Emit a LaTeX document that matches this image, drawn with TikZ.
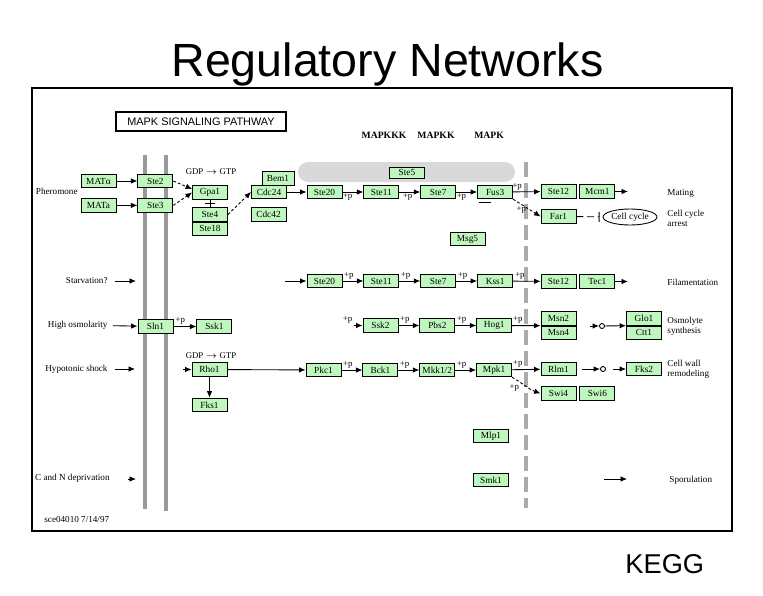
\documentclass[tikz,border=0pt]{standalone}
\usepackage{fontspec}
\setmainfont{Liberation Serif}
\newfontfamily\slidefont{Liberation Sans}
\usepackage{xcolor}
\definecolor{keggGreen}{HTML}{BFF7BF}
\definecolor{membraneGrey}{HTML}{999999}
\definecolor{nucleusGrey}{HTML}{ABABAB}
\definecolor{scaffoldGrey}{HTML}{D9D9D9}
\usepackage{tikz}
\usetikzlibrary{arrows.meta}
\tikzset{arrow/.style = {> = {Latex[length = 1.3mm, width = 1.1mm]}}}
\tikzset{inhibit/.style = {-{Bar[width = 2mm]}}}
\usetikzlibrary{positioning}
\usetikzlibrary{shapes.geometric}

\begin{document}
\begin{tikzpicture}[x = 0.02cm, y = -0.02cm, line width = 0.5pt,
	block/.style = {rectangle, draw, fill = keggGreen, minimum width = 0.7cm, minimum height = 0.27cm, inner sep = 0pt, font = \fontsize{5.3}{6}\selectfont},
	cue/.style = {font = \fontsize{5.2}{5.7}\selectfont, align = left, inner sep = 0pt},
	phos/.style = {font = \fontsize{5}{5}\selectfont, inner sep = 0.8pt},
	dashline/.style = {dash pattern = on 1.6pt off 1.2pt}]
	\useasboundingbox (0, 0) rectangle (763, 595);

	%% Slide
	\node[anchor = base west, inner sep = 0pt, font = \slidefont\fontsize{26.5}{30}\selectfont] (title) at (171, 76) {Regulatory Networks};
	\node[anchor = base west, inner sep = 0pt, font = \slidefont\fontsize{15.5}{18}\selectfont] (kegg) at (625, 573) {KEGG};
	\draw[line width = 0.6pt] (32, 88) rectangle (732, 531);

	%% Header
	\node[draw, line width = 1pt, minimum width = 3.4cm, minimum height = 0.38cm, inner sep = 0pt, font = \slidefont\fontsize{6.2}{7}\selectfont] (header) at (201, 121.5) {MAPK SIGNALING PATHWAY};
	\node[font = \bfseries\fontsize{5.5}{6}\selectfont] (mapkkk) at (384, 135) {MAPKKK};
	\node[font = \bfseries\fontsize{5.5}{6}\selectfont] (mapkk) at (436, 135) {MAPKK};
	\node[font = \bfseries\fontsize{5.5}{6}\selectfont] (mapk) at (489, 135) {MAPK};

	%% Membrane, nucleus and scaffold
	\draw[membraneGrey, line width = 0.08cm] (145, 155) -- (145, 509);
	\draw[membraneGrey, line width = 0.08cm] (166, 155) -- (166, 511);
	\draw[nucleusGrey, line width = 0.08cm, dash pattern = on 0.3cm off 0.12cm] (526, 162) -- (526, 508);
	\node[fill = scaffoldGrey, rounded corners = 0.2cm, minimum width = 4.34cm, minimum height = 0.4cm, inner sep = 0pt] (scaffold) at (406.5, 172) {};
	\node[block, minimum height = 0.22cm] (ste5) at (407, 172.5) {Ste5};

	%% Pheromone
	\node[cue, anchor = east] (pheromone) at (78, 191) {Pheromone};
	\node[block] (matalpha) at (98.5, 181) {MATα};
	\node[block, below = 0.2cm of matalpha] (mata) {MATa};
	\node[block, right = 0.42cm of matalpha] (ste2) {Ste2};
	\node[block, right = 0.42cm of mata] (ste3) {Ste3};

	\node[phos] (gdp1) at (211, 172) {GDP$\,\rightarrow\,$GTP};
	\node[block] (gpa1) at (210, 192.5) {Gpa1};
	\node[block] (ste4) at (210, 214.5) {Ste4};
	\node[block, below = 0pt of ste4] (ste18) {Ste18};

	\node[block, minimum width = 0.64cm] (bem1) at (278, 178.5) {Bem1};
	\node[block] (cdc24) at (269, 192) {Cdc24};
	\node[block] (cdc42) at (268.5, 214.5) {Cdc42};

	\node[block] (ste20a) at (324.5, 192) {Ste20};
	\node[block, right = 0.42cm of ste20a] (ste11a) {Ste11};
	\node[block, right = 0.42cm of ste11a] (ste7a) {Ste7};
	\node[block, right = 0.42cm of ste7a] (fus3) {Fus3};
	\node[block] (msg5) at (467.5, 239) {Msg5};

	\node[block] (ste12a) at (558.5, 191.5) {Ste12};
	\node[block, right = 0.06cm of ste12a] (mcm1) {Mcm1};
	\coordinate (mating) at (628, 191.5);
	\node[cue, anchor = west] (matinglabel) at (667, 193) {Mating};
	\node[block] (far1) at (558.5, 216.5) {Far1};
	\node[ellipse, draw, minimum width = 1.08cm, minimum height = 0.32cm, inner sep = 0pt, font = \fontsize{5.3}{6}\selectfont] (cellcycle) at (630, 217) {Cell cycle};
	\node[cue, anchor = west] (arrest) at (667, 218) {Cell cycle\\arrest};

	%% Starvation
	\node[cue, anchor = east] (starvation) at (108, 281) {Starvation?};
	\coordinate (starvend) at (136, 281);
	\coordinate (filstart) at (285, 281);
	\node[block] (ste20b) at (324.5, 281) {Ste20};
	\node[block, right = 0.42cm of ste20b] (ste11b) {Ste11};
	\node[block, right = 0.42cm of ste11b] (ste7b) {Ste7};
	\node[block, right = 0.42cm of ste7b] (kss1) {Kss1};
	\node[block] (ste12b) at (558.5, 281.5) {Ste12};
	\node[block, right = 0.06cm of ste12b] (tec1) {Tec1};
	\coordinate (filend) at (628, 281.5);
	\node[cue, anchor = west] (filamentation) at (667, 282) {Filamentation};

	%% High osmolarity
	\node[cue, anchor = east] (osmolarity) at (108, 325) {High osmolarity};
	\node[block] (sln1) at (155.5, 326.5) {Sln1};
	\node[block, right = 0.46cm of sln1] (ssk1) {Ssk1};
	\coordinate (ssk2start) at (354, 325.5);
	\node[block] (ssk2) at (380.5, 325.5) {Ssk2};
	\node[block, right = 0.42cm of ssk2] (pbs2) {Pbs2};
	\node[block, right = 0.42cm of pbs2] (hog1) {Hog1};
	\node[block] (msn2) at (558.5, 318.5) {Msn2};
	\node[block, below = 0pt of msn2] (msn4) {Msn4};
	\coordinate (osmoin) at (590, 326);
	\node[circle, draw, minimum size = 0.1cm, inner sep = 0pt] (osmostep) at (602, 326) {};
	\node[block] (glo1) at (644, 318.5) {Glo1};
	\node[block, below = 0pt of glo1] (ctt1) {Ctt1};
	\node[cue, anchor = west] (osmolyte) at (667, 326) {Osmolyte\\synthesis};

	%% Hypotonic shock
	\node[cue, anchor = east] (hypotonic) at (108, 369) {Hypotonic shock};
	\coordinate (hypoend) at (135, 369);
	\node[phos] (gdp2) at (211, 356) {GDP$\,\rightarrow\,$GTP};
	\coordinate (rho1start) at (183, 369.5);
	\node[block] (rho1) at (209.5, 369.5) {Rho1};
	\node[block, below = 0.42cm of rho1] (fks1) {Fks1};
	\node[block] (pkc1) at (323.5, 370) {Pkc1};
	\node[block, right = 0.42cm of pkc1] (bck1) {Bck1};
	\node[block, right = 0.42cm of bck1] (mkk12) {Mkk1/2};
	\node[block, right = 0.42cm of mkk12] (mpk1) {Mpk1};
	\node[block] (rlm1) at (558.5, 369) {Rlm1};
	\node[block] (swi4) at (558.5, 393.5) {Swi4};
	\node[block, right = 0.06cm of swi4] (swi6) {Swi6};
	\node[circle, draw, minimum size = 0.1cm, inner sep = 0pt] (wallstep) at (603, 369) {};
	\coordinate (fks2start) at (613, 369);
	\node[block] (fks2) at (644, 369) {Fks2};
	\node[cue, anchor = west] (wall) at (667, 369) {Cell wall\\remodeling};

	%% C and N deprivation
	\node[block] (mlp1) at (491, 436) {Mlp1};
	\node[block] (smk1) at (491, 480) {Smk1};
	\node[cue, anchor = east] (deprivation) at (110, 478) {C and N deprivation};
	\coordinate (depstart) at (128, 479);
	\coordinate (depend) at (136, 479);
	\coordinate (sporestart) at (604, 479);
	\coordinate (sporeend) at (627, 479);
	\node[cue, anchor = west] (sporulation) at (669, 480) {Sporulation};
	\node[cue, anchor = west] (version) at (44, 519) {sce04010 7/14/97};

	%% Arrows...
	% ... pheromone
	\draw[->, arrow] (matalpha) -- (ste2);
	\draw[->, arrow] (mata) -- (ste3);
	\draw[->, arrow, dashline] (ste2.east) -- ([yshift = 2pt] gpa1.west);
	\draw[->, arrow, dashline] (ste3.east) -- (gpa1.west);
	\draw (gpa1.south) -- (ste4.north) (205, 203.5) -- (215, 203.5);
	\draw[->, arrow, dashline] (ste4.east) -- (cdc24.west);
	\draw[->, arrow] (cdc24) -- (ste20a);
	\draw[->, arrow] (ste20a) -- node[phos, below, pos = 0.25] {+p} (ste11a);
	\draw[->, arrow] (ste11a) -- node[phos, below, pos = 0.4] {+p} (ste7a);
	\draw[->, arrow] (ste7a) -- node[phos, below, pos = 0.25] {+p} (fus3);
	\draw ([shift = {(1pt, -2pt)}] fus3.south west) -- ++(12, 0);
	\draw[->, arrow] (fus3) -- node[phos, above, pos = 0.15] {+p} (ste12a);
	\draw[->, arrow, dashline] (fus3.south east) -- node[phos, below, pos = 0.3] {+p} (far1.west);
	\draw[->, arrow] (mcm1) -- (mating);
	\draw[inhibit, dash pattern = on 4pt off 2pt, shorten >= 0.06cm] (far1) -- (cellcycle);

	% ... starvation
	\draw[->, arrow, shorten <= 0.14cm] (starvation) -- (starvend);
	\draw[->, arrow] (filstart) -- (ste20b);
	\draw[->, arrow] (ste20b) -- node[phos, above, pos = 0.3] {+p} (ste11b);
	\draw[->, arrow] (ste11b) -- node[phos, above, pos = 0.3] {+p} (ste7b);
	\draw[->, arrow] (ste7b) -- node[phos, above, pos = 0.3] {+p} (kss1);
	\draw[->, arrow] (kss1) -- node[phos, above, pos = 0.25] {+p} (ste12b);
	\draw[->, arrow] (tec1) -- (filend);

	% ... high osmolarity
	\draw[->, arrow, shorten <= 0.1cm] (osmolarity) -- (sln1);
	\draw[->, arrow] (sln1) -- node[phos, above, pos = 0.3] {+p} (ssk1);
	\draw[->, arrow] (ssk2start) -- node[phos, above left, pos = 0] {+p} (ssk2);
	\draw[->, arrow] (ssk2) -- node[phos, above, pos = 0.3] {+p} (pbs2);
	\draw[->, arrow] (pbs2) -- node[phos, above, pos = 0.3] {+p} (hog1);
	\draw[->, arrow] (hog1) -- node[phos, above, pos = 0.2] {+p} (msn2.south west);
	\draw[->, arrow] (osmoin) -- (osmostep);
	\draw[->, arrow] (osmostep) -- (glo1.south west);

	% ... hypotonic shock
	\draw[->, arrow, shorten <= 0.14cm] (hypotonic) -- (hypoend);
	\draw[->, arrow] (rho1start) -- (rho1);
	\draw[->, arrow] (rho1) -- (pkc1);
	\draw[->, arrow] (rho1) -- (fks1);
	\draw[->, arrow] (pkc1) -- node[phos, above, pos = 0.3] {+p} (bck1);
	\draw[->, arrow] (bck1) -- node[phos, above, pos = 0.3] {+p} (mkk12);
	\draw[->, arrow] (mkk12) -- node[phos, above, pos = 0.3] {+p} (mpk1);
	\draw[->, arrow] (mpk1) -- node[phos, above, pos = 0.2] {+p} (rlm1);
	\draw[->, arrow, dashline] (mpk1.south east) to[out = -30, in = 160] node[phos, below left, pos = 0.3] {+p} (swi4.west);
	\draw[->, arrow, shorten <= 0.12cm] (rlm1) -- (wallstep);
	\draw[->, arrow] (fks2start) -- (fks2);

	% ... deprivation
	\draw[->, arrow] (depstart) -- (depend);
	\draw[->, arrow] (sporestart) -- (sporeend);
\end{tikzpicture}
\end{document}
